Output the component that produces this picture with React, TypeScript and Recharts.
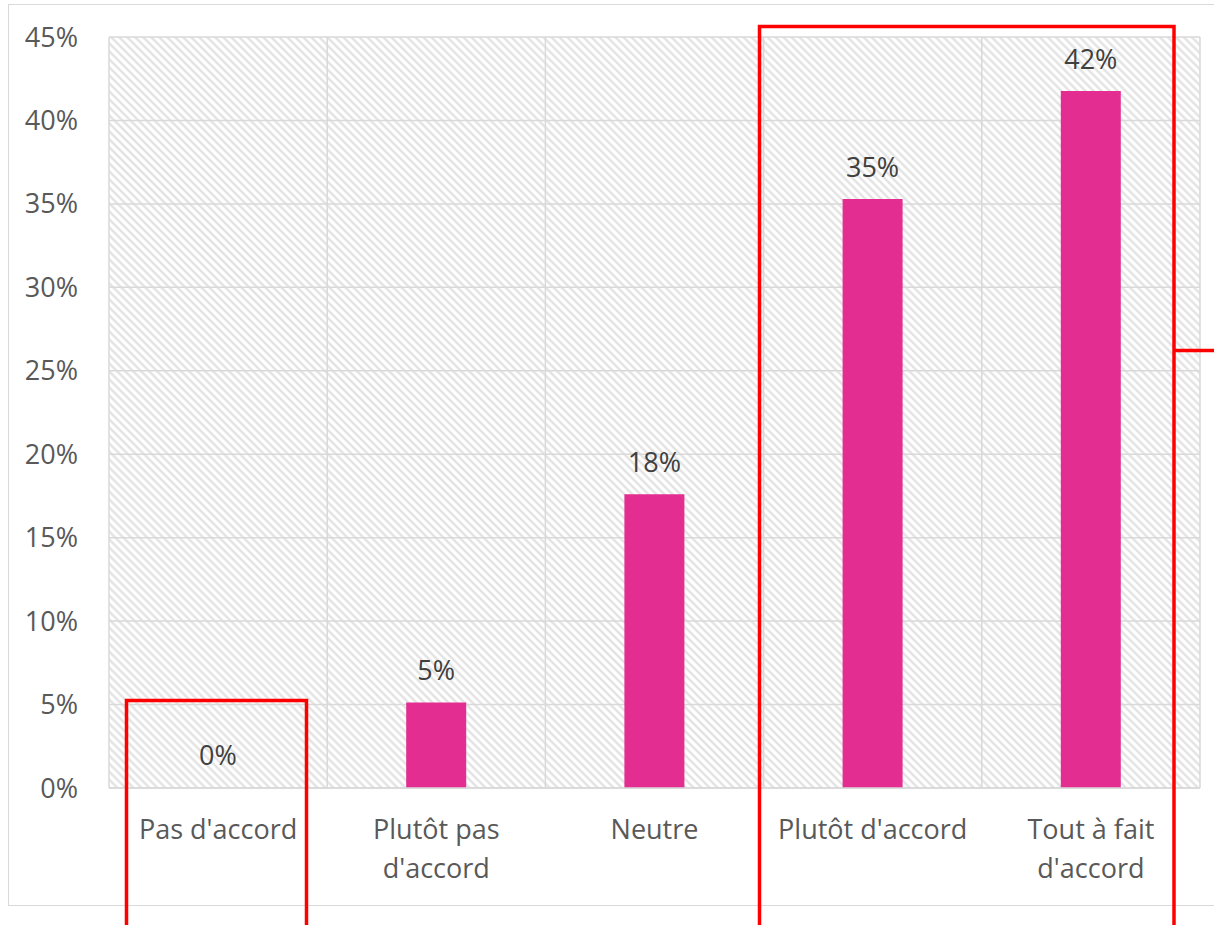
import React from 'react';
import { BarChart, Bar, XAxis, YAxis, CartesianGrid, LabelList, Cell } from 'recharts';

// catégories (les \n marquent les retours à la ligne des libellés)
const categories = ["Pas d'accord", "Plutôt pas\nd'accord", 'Neutre', "Plutôt d'accord", "Tout à fait\nd'accord"];
const valeurs = [0, 0.0513, 0.176, 0.353, 0.4176];
const yTicks = [0, 0.05, 0.1, 0.15, 0.2, 0.25, 0.3, 0.35, 0.4, 0.45];

const data = categories.map((c, i) => ({ categorie: c, valeur: valeurs[i] }));

const FONT = '"Open Sans", "Noto Sans", sans-serif';
const ROSE = '#E32D91';
const ROUGE = '#FF0000';

const pct = (v: number) => `${Math.round(v * 100)}%`;

function XTick(props: any) {
  const { x, y, payload } = props;
  const lignes = String(payload.value).split('\n');
  return (
    <text x={x} y={y} textAnchor="middle" fill="#595959" fontSize={27} fontFamily={FONT}>
      {lignes.map((l, i) => (
        <tspan key={i} x={x} dy={i === 0 ? 43 : 39}>
          {l}
        </tspan>
      ))}
    </text>
  );
}

export default function App() {
  return (
    <div style={{ position: 'absolute', left: 0, top: 0, width: 1214, height: 925, overflow: 'hidden', background: '#fff' }}>
      <svg width={0} height={0} style={{ position: 'absolute' }}>
        <defs>
          <pattern id="hachures" width={5.66} height={5.66} patternUnits="userSpaceOnUse" patternTransform="rotate(-45)">
            <rect width={5.66} height={5.66} fill="#ffffff" />
            <line x1={1.4} y1={0} x2={1.4} y2={5.66} stroke="#e0e0e0" strokeWidth={2.2} />
          </pattern>
        </defs>
      </svg>
      <div style={{ position: 'absolute', left: 8, top: 4, width: 1220, height: 900, border: '1.5px solid #d9d9d9' }} />
      <div style={{ position: 'absolute', left: 0, top: 0 }}>
        <BarChart width={1214} height={925} data={data} margin={{ top: 37, right: 14, left: 0, bottom: 20 }}>
          <CartesianGrid
            stroke="#d9d9d9"
            strokeWidth={1.5}
            fill="url(#hachures)"
            verticalCoordinatesGenerator={({ offset }: any) =>
              categories.map((_, i) => offset.left + (i * offset.width) / categories.length).concat(offset.left + offset.width)
            }
          />
          <XAxis
            dataKey="categorie"
            height={117}
            axisLine={{ stroke: '#d9d9d9', strokeWidth: 1.5 }}
            tickLine={false}
            tick={<XTick />}
            interval={0}
          />
          <YAxis
            width={109}
            domain={[0, 0.45]}
            ticks={yTicks}
            tickFormatter={pct}
            axisLine={false}
            tickLine={false}
            tickMargin={25}
            tick={{ fill: '#595959', fontSize: 27, fontFamily: FONT }}
          />
          <Bar dataKey="valeur" fill={ROSE} barSize={60} minPointSize={1} isAnimationActive={false}>
            {data.map((d, i) => (
              <Cell key={i} fill={d.valeur === 0 ? 'transparent' : ROSE} />
            ))}
            <LabelList dataKey="valeur" position="top" offset={22} formatter={(v: any) => pct(Number(v))} fill="#404040" fontSize={27} fontFamily={FONT} />
          </Bar>
        </BarChart>
      </div>
      <svg width={1214} height={925} style={{ position: 'absolute', left: 0, top: 0, pointerEvents: 'none' }}>
        <polyline points="126.5,925 126.5,700.5 306.5,700.5 306.5,925" fill="none" stroke={ROUGE} strokeWidth={3.5} />
        <polyline points="759.5,925 759.5,26.5 1174,26.5 1174,925" fill="none" stroke={ROUGE} strokeWidth={3.5} />
        <line x1={1174} y1={350.5} x2={1214} y2={350.5} stroke={ROUGE} strokeWidth={3.5} />
      </svg>
    </div>
  );
}
